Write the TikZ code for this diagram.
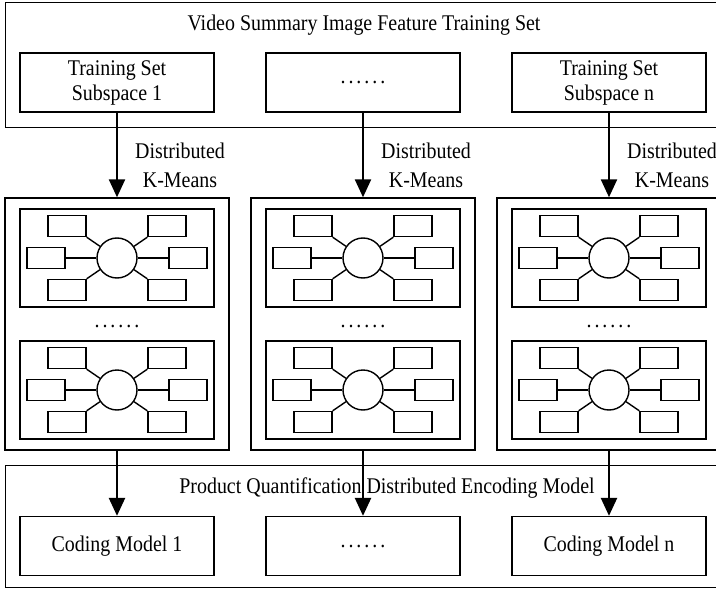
\documentclass[tikz,border=0pt]{standalone}
\usepackage{fontspec}
\setmainfont[FakeStretch=0.89]{Liberation Serif}
\usetikzlibrary{arrows.meta}
\newcommand\sixdots{.\kern3pt.\kern3pt.\kern3pt.\kern3pt.\kern3pt.}
\tikzset{
  box/.style={draw, line width=1.3pt, minimum width=194pt, minimum height=59pt, inner sep=0pt, align=center, font=\fontsize{22.4}{25}\selectfont},
  frame/.style={draw, line width=1.4pt, inner sep=0pt},
  lab/.style={font=\fontsize{22.4}{29}\selectfont, align=center, inner sep=0pt},
  arr/.style={line width=2.4pt, -{Triangle[width=16pt,length=18pt]}},
  hubc/.style={draw, circle, line width=1.4pt, minimum size=40pt, inner sep=0pt},
  leaf/.style={draw, line width=1.4pt, minimum width=38pt, minimum height=21pt, inner sep=0pt},
  link/.style={line width=1.4pt},
  pics/hub/.style={code={
    \node[hubc] (-c) at (0,0) {};
    \node[leaf] (-tl) at (-50,-32) {};
    \node[leaf] (-ml) at (-71,0) {};
    \node[leaf] (-bl) at (-50,32) {};
    \node[leaf] (-tr) at (50,-32) {};
    \node[leaf] (-mr) at (71,0) {};
    \node[leaf] (-br) at (50,32) {};
    \draw[link] (-tl.south east) -- (-c);
    \draw[link] (-ml.east) -- (-c);
    \draw[link] (-bl.north east) -- (-c);
    \draw[link] (-tr.south west) -- (-c);
    \draw[link] (-mr.west) -- (-c);
    \draw[link] (-br.north west) -- (-c);
  }}
}
\begin{document}
\begin{tikzpicture}[x=1pt,y=-1pt]
\useasboundingbox (0,0) rectangle (716,589);
% top frame
\node[frame, minimum width=717pt, minimum height=125pt, anchor=north west] (top) at (5,2) {};
\node[lab] (title) at (364,25) {Video Summary Image Feature Training Set};
\node[box] (s1) at (117,82.5) {Training Set\\Subspace 1};
\node[box] (s2) at (363,82.5) {\sixdots};
\node[box] (s3) at (609,82.5) {Training Set\\Subspace n};
% clusters
\foreach \i/\x in {1/117,2/363,3/609}{
  \node[frame, minimum width=224pt, minimum height=252pt] (k\i) at (\x,324) {};
  \node[frame, minimum width=194pt, minimum height=98pt] (k\i a) at (\x,258) {};
  \node[frame, minimum width=194pt, minimum height=98pt] (k\i b) at (\x,390) {};
  \pic (h\i a) at (\x,258) {hub};
  \pic (h\i b) at (\x,390) {hub};
  \node[lab] (d\i) at (\x,326) {\sixdots};
  \node[lab] (km\i) at (\x+63,165.5) {Distributed\\K-Means};
}
% bottom frame
\node[frame, minimum width=717pt, minimum height=122pt, anchor=north west] (bot) at (5,465) {};
\node[lab] (btitle) at (387,488) {Product Quantification Distributed Encoding Model};
\node[box] (c1) at (117,546) {Coding Model 1};
\node[box] (c2) at (363,546) {\sixdots};
\node[box] (c3) at (609,546) {Coding Model n};
% arrows
\draw[arr] (s1.south) -- (k1.north);
\draw[arr] (s2.south) -- (k2.north);
\draw[arr] (s3.south) -- (k3.north);
\draw[arr] (k1.south) -- (c1.north);
\draw[arr] (k2.south) -- (c2.north);
\draw[arr] (k3.south) -- (c3.north);
\end{tikzpicture}
\end{document}
